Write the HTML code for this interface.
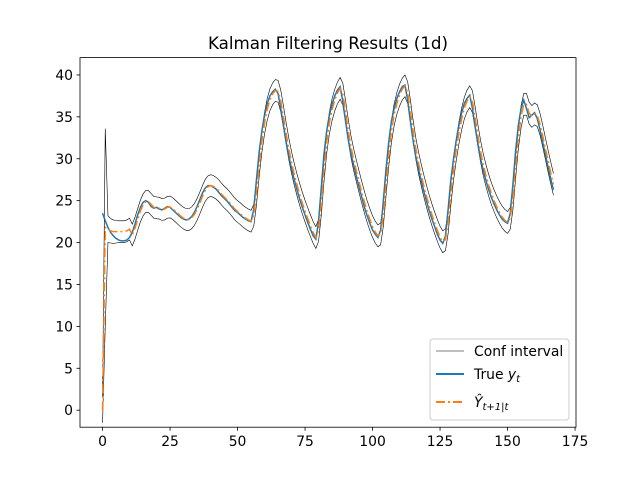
<!DOCTYPE html>
<html><head><meta charset="utf-8"><style>
body{margin:0;background:#fff}
svg{font-family:"DejaVu Sans","Liberation Sans",sans-serif}
</style></head><body>
<svg id="chart" width="640" height="480" viewBox="0 0 640 480" xmlns="http://www.w3.org/2000/svg">
<rect width="640" height="480" fill="#fff"/>
<text x="328" y="49" text-anchor="middle" font-size="16.7">Kalman Filtering Results (1d)</text>
<g id="plot"></g>
<rect x="80" y="57.6" width="496" height="369.6" fill="none" stroke="#000" stroke-width="0.8"/>
<g id="axes"></g>
<g>
<rect x="430" y="339" width="139" height="81" rx="3" fill="#fff" fill-opacity="0.8" stroke="#ccc"/>
<line x1="436" y1="351" x2="464" y2="351" stroke="#000" stroke-width="0.6"/>
<text x="474" y="356" font-size="13.9">Conf interval</text>
<line x1="436" y1="374" x2="464" y2="374" stroke="#1f77b4" stroke-width="2"/>
<text x="474" y="379" font-size="13.9">True <tspan font-style="italic">y</tspan><tspan font-style="italic" font-size="10" dy="3">t</tspan></text>
<line x1="436" y1="402" x2="464" y2="402" stroke="#ff7f0e" stroke-width="2" stroke-dasharray="9,3,2,3"/>
<text x="474" y="407" font-size="13.9"><tspan font-style="italic">Ŷ</tspan><tspan font-style="italic" font-size="10" dy="3">t+1|t</tspan></text>
</g>
</svg>
<script>
const trueY = [23.5,22.6,21.8,21.2,20.8,20.5,20.3,20.2,20.2,20.3,
20.6,21.2,22.2,23.3,24.2,24.8,25.0,24.8,24.3,24.1,
24.2,24.0,23.9,24.1,24.3,24.2,23.9,23.6,23.3,23.0,
22.8,22.7,22.8,23.1,23.6,24.3,25.1,25.9,26.5,26.8,
26.8,26.6,26.4,26.0,25.6,25.3,25.0,24.6,24.2,23.8,
23.6,23.3,23.0,22.8,22.6,22.5,24.0,27.5,30.8,33.3,
35.2,36.6,37.5,38.0,38.3,37.8,36.0,34.0,32.0,30.3,
28.8,27.5,26.3,25.2,24.2,23.3,22.4,21.6,20.8,20.4,
22.5,26.5,30.5,33.3,35.2,36.5,37.5,38.2,38.6,36.8,
34.5,32.3,30.6,29.2,27.9,26.6,25.4,24.2,23.2,22.3,
21.5,21.0,20.6,21.5,25.0,28.8,32.0,34.5,36.0,37.2,
38.0,38.6,38.8,37.0,34.5,32.2,30.3,28.8,27.4,26.1,
24.9,23.8,22.8,21.9,21.0,20.3,19.9,20.8,24.0,27.5,
30.0,32.2,34.0,35.5,36.6,37.2,37.6,36.0,33.8,31.8,
30.0,28.6,27.4,26.3,25.4,24.6,23.9,23.3,22.8,22.5,
22.3,23.5,27.0,31.0,34.0,36.0,37.0,36.0,34.9,35.2,
35.5,34.8,33.5,32.0,30.5,29.0,27.6,26.3];
const predStart = [0,21.8,21.6,21.4,21.3,21.3,21.3,21.3,21.3,21.4,21.6];
const halfWidthStart = [1.5,11.8,1.6,1.45,1.4,1.35];
const halfWidthDefault = 1.3;
const xTicks = [0,25,50,75,100,125,150,175];
const yTicks = [0,5,10,15,20,25,30,35,40];

const pred = trueY.map((v,i)=> i < predStart.length ? predStart[i] : 0.5*(v + trueY[i-1]));
const X = t => 80 + (t + 8.35) / 183.7 * 496;
const Y = v => 427.2 - (v + 2.03) / 44.1 * 369.6;
const NS = "http://www.w3.org/2000/svg";
const plot = document.getElementById('plot');
const axes = document.getElementById('axes');
function mk(tag, attrs, parent){const e=document.createElementNS(NS,tag);for(const k in attrs)e.setAttribute(k,attrs[k]);parent.appendChild(e);return e;}
function pathOf(arr){return arr.map((v,i)=>(i?'L':'M')+X(i).toFixed(2)+','+Y(v).toFixed(2)).join(' ');}
const hw = i => i < halfWidthStart.length ? halfWidthStart[i] : halfWidthDefault;
const upper = pred.map((v,i)=>v+hw(i));
const lower = pred.map((v,i)=>v-hw(i));
let p = mk('path',{d:pathOf(upper),fill:'none',stroke:'#000','stroke-width':0.6},plot);


p = mk('path',{d:pathOf(lower),fill:'none',stroke:'#000','stroke-width':0.6},plot);


p = mk('path',{d:pathOf(trueY),fill:'none',stroke:'#1f77b4','stroke-width':1.5},plot);


p = mk('path',{d:pathOf(pred),fill:'none',stroke:'#ff7f0e','stroke-width':1.5,'stroke-dasharray':'9,3,2,3'},plot);


xTicks.forEach(t=>{
  const x=X(t);
  const l=mk('line',{x1:x,x2:x,y1:427.2,y2:430.7,stroke:'#000','stroke-width':0.8},axes);
  
  
  const s=mk('text',{x:x,y:446,'text-anchor':'middle','font-size':13.9},axes);
  
  
  s.textContent=t;
});
yTicks.forEach(v=>{
  const y=Y(v);
  const l=mk('line',{x1:76.5,x2:80,y1:y,y2:y,stroke:'#000','stroke-width':0.8},axes);
  
  
  const s=mk('text',{x:73,y:y+5,'text-anchor':'end','font-size':13.9},axes);
  
  
  s.textContent=v;
});
</script>
</body></html>
